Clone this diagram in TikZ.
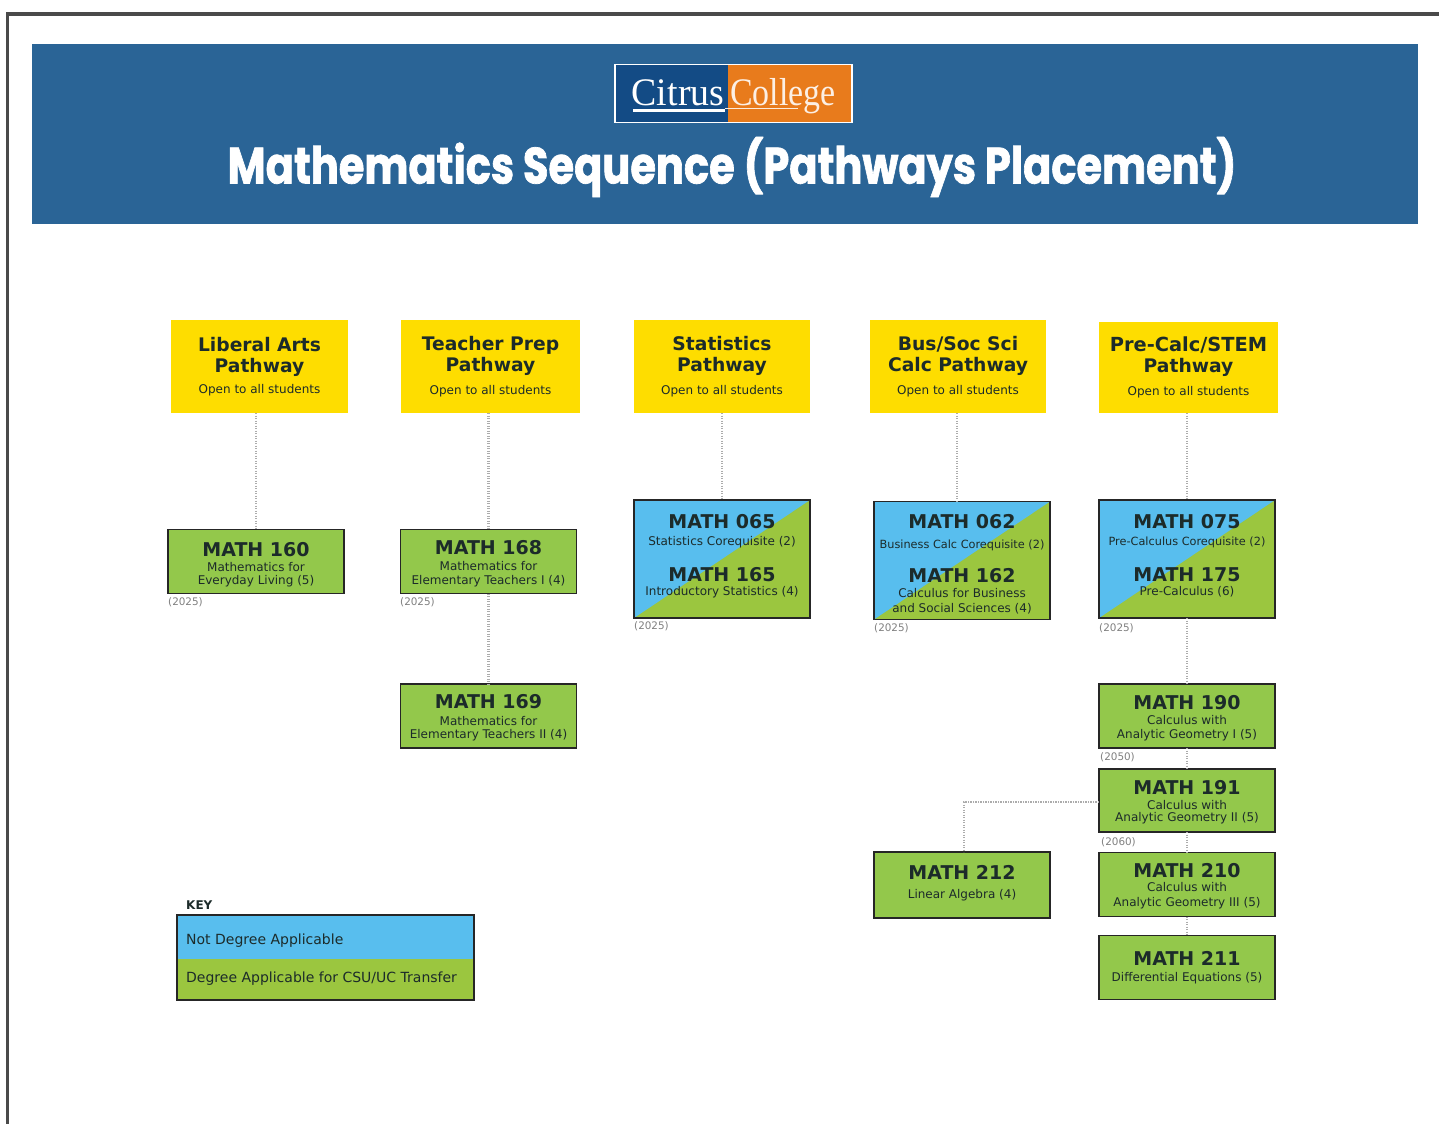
\documentclass[tikz,border=0pt]{standalone}
\usepackage{fontspec}
\setmainfont{DejaVu Sans}
\newfontfamily\titlefont[FakeBold=1.5]{Poppins Bold}
\newfontfamily\logofont{Liberation Serif}
\usetikzlibrary{calc}
\definecolor{banner}{HTML}{2A6496}
\definecolor{frameline}{HTML}{4A4A4A}
\definecolor{yel}{HTML}{FEDD00}
\definecolor{grn}{HTML}{93C84B}
\definecolor{grnd}{HTML}{9BC63F}
\definecolor{blu}{HTML}{58BEEE}
\definecolor{ink}{HTML}{1C2B2A}
\definecolor{logoblue}{HTML}{134B85}
\definecolor{logoorange}{HTML}{E87B1C}
\newcommand{\cname}[1]{{\fontsize{19}{21}\selectfont\bfseries #1}}
\newcommand{\csub}[1]{{\fontsize{12}{14.5}\selectfont #1}}
\newcommand{\csubn}[1]{{\fontsize{11.3}{14.5}\selectfont #1}}
\newcommand{\pname}[1]{{\fontsize{18.7}{21.5}\selectfont\bfseries #1}}
\newcommand{\psub}[1]{{\fontsize{12}{14}\selectfont #1}}
\newcommand{\upad}[1]{\rule{0pt}{#1pt}}
\newcommand{\dpad}[1]{\rule[-#1pt]{0pt}{0pt}}
\tikzset{
  base/.style={inner sep=0pt,outer sep=0pt,align=center,text=ink,
    font=\fontsize{12}{14.5}\selectfont},
  pathbox/.style={base,fill=yel,minimum width=#1,minimum height=93pt},
  course/.style={base,draw=black!85,line width=1.3pt,fill=grn,minimum width=176pt,minimum height=64pt},
  split/.style={course,minimum height=118pt,fill=grnd,path picture={
     \fill[blu] (path picture bounding box.north west) -- (path picture bounding box.north east) -- (path picture bounding box.south west) -- cycle;}},
  link/.style={draw=gray!65,line width=2.8pt,dash pattern=on 1.4pt off 1.1pt},
  yeartag/.style={inner sep=0pt,anchor=west,text=gray,font=\fontsize{10.4}{12}\selectfont},
}
\begin{document}
\normallineskiplimit=-100pt
\lineskiplimit=-100pt
\begin{tikzpicture}[x=1pt,y=-1pt]
\useasboundingbox (0,0) rectangle (1439,1124);
\fill[white] (0,0) rectangle (1439,1124);
% page frame
\fill[frameline] (6,12) rectangle (1439,16);
\fill[frameline] (6,12) rectangle (8.5,1124);
% banner
\fill[banner] (32,44) rectangle (1418,224);
\node[inner sep=0pt,outer sep=0pt,fill=logoblue,minimum width=113pt,minimum height=58pt] (logoL) at (671.5,93.5) {};
\node[inner sep=0pt,outer sep=0pt,fill=logoorange,minimum width=124pt,minimum height=58pt] (logoR) at (790,93.5) {};
\draw[white,line width=1.5pt] (logoL.north west) rectangle (logoR.south east);
\node[inner sep=0pt,text=white,anchor=base] (citrus) at (678,105) {\logofont\fontsize{39}{39}\selectfont\scalebox{0.97}[1]{Citrus}};
\node[inner sep=0pt,text=white!88!logoorange,anchor=base] (college) at (783,105) {\logofont\fontsize{39}{39}\selectfont\scalebox{0.87}[1]{College}};
\fill[white] (633,108.5) rectangle (725,111.5);
\fill[white!85!logoorange] (725,108) rectangle (798,109);
\node[inner sep=0pt,text=white] (title) at (732,167) {\titlefont\fontsize{51}{55}\selectfont\scalebox{0.815}[1]{Mathematics Sequence (Pathways Placement)}};
% pathway headers
\node[pathbox=177pt] (lib) at (259.5,366.5) {\pname{Liberal Arts}\\[6.5pt]\pname{Pathway}\\[7.2pt]\psub{Open to all students}};
\node[pathbox=179pt] (tea) at (490.5,366.5) {\pname{Teacher Prep}\\[6.5pt]\pname{Pathway}\\[9.2pt]\psub{Open to all students}};
\node[pathbox=176pt] (sta) at (722,366.5) {\pname{Statistics}\\[6.5pt]\pname{Pathway}\\[9.2pt]\psub{Open to all students}};
\node[pathbox=176pt] (bus) at (958,366.5) {\pname{Bus/Soc Sci}\\[6.5pt]\pname{Calc Pathway}\\[9.2pt]\psub{Open to all students}};
\node[pathbox=179pt,minimum height=91pt] (pre) at (1188.5,367.5) {{\fontsize{19.4}{21}\selectfont\bfseries Pre-Calc/STEM}\\[6.5pt]\pname{Pathway}\\[9.2pt]\psub{Open to all students}};
% courses
\node[course] (m160) at (256,561.5) {\upad{20}\cname{MATH 160}\\[0.5pt]\csub{Mathematics for}\\[-1pt]\csub{Everyday Living (5)}};
\node[course] (m168) at (488.5,561.5) {\upad{17.8}\cname{MATH 168}\\[1.9pt]\csub{Mathematics for}\\[-1.2pt]\csub{Elementary Teachers I (4)}};
\node[course] (m169) at (488.5,716) {\upad{17.8}\cname{MATH 169}\\[1.9pt]\csub{Mathematics for}\\[-1.2pt]\csub{Elementary Teachers II (4)}};
\node[split] (m065) at (722,559) {\cname{MATH 065}\\[3.2pt]\csub{Statistics Corequisite (2)}\\[21.5pt]\cname{MATH 165}\\[-0.5pt]\csub{Introductory Statistics (4)}\dpad{7.9}};
\node[split] (m062) at (962,560.5) {\upad{21.4}\cname{MATH 062}\\[4.9pt]\csubn{Business Calc Corequisite (2)}\\[19.5pt]\cname{MATH 162}\\[1.1pt]\csub{Calculus for Business}\\\csub{and Social Sciences (4)}};
\node[split] (m075) at (1187,559) {\cname{MATH 075}\\[3.2pt]\csubn{Pre-Calculus Corequisite (2)}\\[21.5pt]\cname{MATH 175}\\[-0.5pt]\csub{Pre-Calculus (6)}\dpad{7.9}};
\node[course] (m190) at (1187,716) {\upad{18}\cname{MATH 190}\\[1.2pt]\csub{Calculus with}\\[-1.2pt]\csub{Analytic Geometry I (5)}};
\node[course,minimum height=63pt] (m191) at (1187,800.5) {\upad{17.6}\cname{MATH 191}\\[0.5pt]\csub{Calculus with}\\[-2.1pt]\csub{Analytic Geometry II (5)}};
\node[course] (m210) at (1187,884.5) {\upad{18}\cname{MATH 210}\\[-0.5pt]\csub{Calculus with}\\[0.5pt]\csub{Analytic Geometry III (5)}};
\node[course] (m211) at (1187,967.5) {\cname{MATH 211}\\[1.2pt]\csub{Differential Equations (5)}};
\node[course,minimum height=66pt] (m212) at (962,885) {\cname{MATH 212}\\[4.5pt]\csub{Linear Algebra (4)}\dpad{5.9}};
% year tags
\node[yeartag] (y160) at (168,602.5) {(2025)};
\node[yeartag] (y168) at (400,602.5) {(2025)};
\node[yeartag] (y065) at (634,626.5) {(2025)};
\node[yeartag] (y062) at (874,628.5) {(2025)};
\node[yeartag] (y075) at (1099,628.5) {(2025)};
\node[yeartag] (y190) at (1100,757.5) {(2050)};
\node[yeartag] (y191) at (1101,842.5) {(2060)};
% connectors
\draw[link] (lib.south -| m160.north) -- (m160.north);
\draw[link] (tea.south -| m168.north) -- (m168.north);
\draw[link] (m168) -- (m169);
\draw[link] (sta.south -| m065.north) -- (m065.north);
\draw[link] ($(bus.south)+(-1,0)$) -- ($(bus.south |- m062.north)+(-1,0)$);
\draw[link] (pre.south -| m075.north) -- (m075.north);
\draw[link] (m075) -- (m190);
\draw[link] (m190) -- (m191);
\draw[link] (m191) -- (m210);
\draw[link] (m210) -- (m211);
\coordinate (bend) at (964,802);
\draw[link] (m191.west |- bend) -- (bend) -- (bend |- m212.north);
% key
\node[inner sep=0pt,anchor=west,font=\fontsize{12}{14}\selectfont\bfseries,text=ink] (keyhead) at (186,905) {KEY};
\node[inner sep=0pt,outer sep=0pt,fill=blu,minimum width=297pt,minimum height=44pt] (keyblue) at (325.5,937) {};
\node[inner sep=0pt,outer sep=0pt,fill=grnd,minimum width=297pt,minimum height=41pt] (keygreen) at (325.5,979.5) {};
\draw[black!85,line width=1.3pt] (keyblue.north west) rectangle (keygreen.south east);
\node[inner sep=0pt,anchor=west,text=ink,font=\fontsize{14}{16}\selectfont] (k1) at (186,941) {Not Degree Applicable};
\node[inner sep=0pt,anchor=west,text=ink,font=\fontsize{14}{16}\selectfont] (k2) at (186,979) {Degree Applicable for CSU/UC Transfer};
\end{tikzpicture}
\end{document}
